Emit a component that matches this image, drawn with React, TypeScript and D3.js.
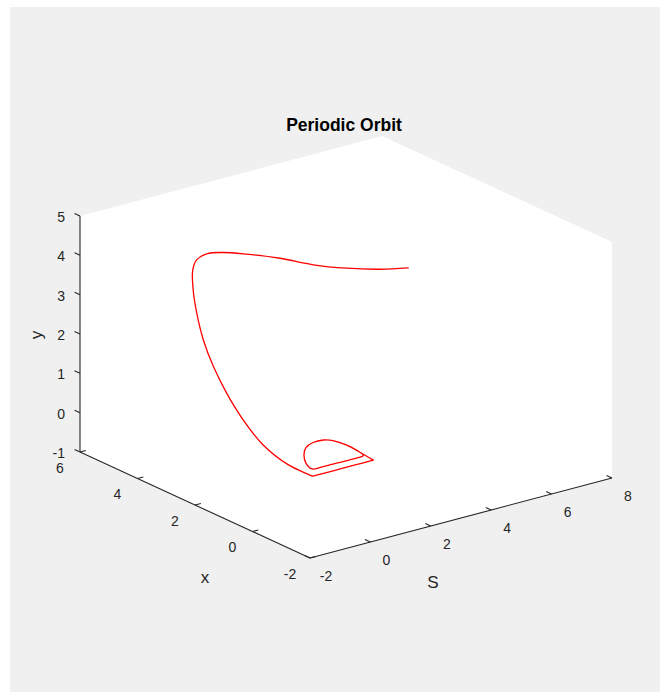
import React from 'react';
import * as d3 from 'd3';

// ---------- data ----------
const TITLE = 'Periodic Orbit';
const S_LABEL = 'S';
const X_LABEL = 'x';
const Y_LABEL = 'y';

const S_DOMAIN: [number, number] = [-2, 8];
const X_DOMAIN: [number, number] = [-2, 6];
const Y_DOMAIN: [number, number] = [-1, 5];

const S_TICKS = [-2, 0, 2, 4, 6, 8];
const X_TICKS = [-2, 0, 2, 4, 6];
const Y_TICKS = [-1, 0, 1, 2, 3, 4, 5];

// trajectory (transient + periodic orbit)
const ORBIT_S = [
  4.1, 3.6, 3.0, 2.4, 1.8, 1.2, 0.8, 0.5, 0.3, 0.2, 0.1, 0.05, 0, 0, 0, 0, 0, 0, 0,
  0.7, 1.4, 2.0,
  2.08, 2.13, 2.05, 1.87, 1.54, 1.16, 0.78, 0.44, 0.31, 0.72, 1.3, 1.76, 2.0,
  2.08, 2.13, 2.05,
];
const ORBIT_X = [
  0.99, 1.45, 1.98, 2.51, 3.04, 3.56, 3.96, 4.22, 4.36, 4.39, 4.27, 4.09, 3.81, 3.46, 3.0, 2.42, 1.73, 0.85, 0,
  0, 0, 0,
  0.55, 1.06, 1.45, 1.6, 1.61, 1.46, 1.13, 0.7, 0.355, 0.33, 0.32, 0.31, 0.35,
  0.55, 1.06, 1.45,
];
const ORBIT_Y = [
  4.13, 4.04, 4.01, 4.04, 4.15, 4.2, 4.19, 4.13, 3.97, 3.72, 3.28, 2.75, 2.18, 1.62, 1.1, 0.61, 0.21, 0, 0,
  0, 0, 0,
  0, 0, 0, 0, 0, 0, 0, 0, 0, 0, 0, 0, 0,
  0, 0, 0,
];
// indices where the trajectory has a sharp corner
const CORNERS = [18, 21];

// ---------- layout ----------
const W = 660;
const H = 692;
const ORIGIN = [310, 558]; // screen position of (Smin, xMin, yMin)
const AX_S = [302, -80];
const AX_X = [-230, -106];
const AX_Y = [0, -236];
const TICK_LEN = 6;
const FONT = "'Liberation Sans', Arial, Helvetica, sans-serif";
const AXIS_COLOR = '#262626';

const sS = d3.scaleLinear().domain(S_DOMAIN).range([0, 1]);
const sX = d3.scaleLinear().domain(X_DOMAIN).range([0, 1]);
const sY = d3.scaleLinear().domain(Y_DOMAIN).range([0, 1]);

function proj(s: number, x: number, y: number): [number, number] {
  const u = sS(s), v = sX(x), w = sY(y);
  return [
    ORIGIN[0] + u * AX_S[0] + v * AX_X[0] + w * AX_Y[0],
    ORIGIN[1] + u * AX_S[1] + v * AX_X[1] + w * AX_Y[1],
  ];
}

function unit(v: number[]) {
  const l = Math.hypot(v[0], v[1]);
  return [v[0] / l, v[1] / l];
}

export default function App() {
  const [s0, s1] = S_DOMAIN;
  const [x0, x1] = X_DOMAIN;
  const [y0, y1] = Y_DOMAIN;

  const panel = [
    proj(s0, x1, y1),
    proj(s1, x1, y1),
    proj(s1, x0, y1),
    proj(s1, x0, y0),
    proj(s0, x0, y0),
    proj(s0, x1, y0),
  ];

  const pts = ORBIT_S.map((s, i) => proj(s, ORBIT_X[i], ORBIT_Y[i]));
  const bounds = [0, ...CORNERS, pts.length - 1];
  const segments: [number, number][][] = [];
  for (let k = 0; k < bounds.length - 1; k++) {
    segments.push(pts.slice(bounds[k], bounds[k + 1] + 1));
  }
  const line = d3.line<[number, number]>().curve(d3.curveCatmullRom.alpha(0.5));
  const pathD = segments.map((seg) => line(seg) || '').join('');

  const uX = unit(AX_X);
  const uS = unit(AX_S);

  const yAxisA = proj(s0, x1, y0), yAxisB = proj(s0, x1, y1);
  const xAxisA = proj(s0, x1, y0), xAxisB = proj(s0, x0, y0);
  const sAxisA = proj(s0, x0, y0), sAxisB = proj(s1, x0, y0);

  return (
    <svg width={W} height={H} style={{ position: 'absolute', left: 0, top: 0, display: 'block' }}>
      <rect x={0} y={0} width={W} height={H} fill="#ffffff" />
      <rect x={10} y={7} width={W - 10} height={H - 7} fill="#f0f0f0" />
      <polygon points={panel.map((p) => p.join(',')).join(' ')} fill="#ffffff" />

      <path d={pathD} fill="none" stroke="#ff0000" strokeWidth={1.3} strokeLinejoin="miter" strokeLinecap="round" />

      {/* axis lines */}
      <g stroke={AXIS_COLOR} strokeWidth={1.1} fill="none">
        <line x1={yAxisA[0]} y1={yAxisA[1]} x2={yAxisB[0]} y2={yAxisB[1]} />
        <line x1={xAxisA[0]} y1={xAxisA[1]} x2={xAxisB[0]} y2={xAxisB[1]} />
        <line x1={sAxisA[0]} y1={sAxisA[1]} x2={sAxisB[0]} y2={sAxisB[1]} />
        {Y_TICKS.map((t) => {
          const p = proj(s0, x1, t);
          return <line key={'yt' + t} x1={p[0]} y1={p[1]} x2={p[0] + uX[0] * TICK_LEN} y2={p[1] + uX[1] * TICK_LEN} />;
        })}
        {X_TICKS.map((t) => {
          const p = proj(s0, t, y0);
          return <line key={'xt' + t} x1={p[0]} y1={p[1]} x2={p[0] + uS[0] * TICK_LEN} y2={p[1] + uS[1] * TICK_LEN} />;
        })}
        {S_TICKS.map((t) => {
          const p = proj(t, x0, y0);
          return <line key={'st' + t} x1={p[0]} y1={p[1]} x2={p[0] + uX[0] * TICK_LEN} y2={p[1] + uX[1] * TICK_LEN} />;
        })}
      </g>

      {/* tick labels */}
      <g fill={AXIS_COLOR} fontFamily={FONT} fontSize={14}>
        {Y_TICKS.map((t) => {
          const p = proj(s0, x1, t);
          return (
            <text key={'yl' + t} x={p[0] - 15} y={p[1] + 1} textAnchor="end" dy="0.35em">
              {t}
            </text>
          );
        })}
        {X_TICKS.map((t) => {
          const p = proj(s0, t, y0);
          return (
            <text key={'xl' + t} x={p[0] - 20} y={p[1] + 16} textAnchor="middle" dy="0.35em">
              {t}
            </text>
          );
        })}
        {S_TICKS.map((t) => {
          const p = proj(t, x0, y0);
          return (
            <text key={'sl' + t} x={p[0] + 16} y={p[1] + 18.5} textAnchor="middle" dy="0.35em">
              {t}
            </text>
          );
        })}
      </g>

      {/* axis labels */}
      <g fill={AXIS_COLOR} fontFamily={FONT} fontSize={17}>
        <text x={205} y={577} textAnchor="middle" dy="0.35em">{X_LABEL}</text>
        <text x={433} y={582} textAnchor="middle" dy="0.35em">{S_LABEL}</text>
        <text x={0} y={0} textAnchor="middle" dy="0.35em" transform="translate(36,335) rotate(-90)">
          {Y_LABEL}
        </text>
      </g>

      <text x={344} y={131} textAnchor="middle" fontFamily={FONT} fontSize={17.5} fontWeight="bold" fill="#000000">
        {TITLE}
      </text>
    </svg>
  );
}
